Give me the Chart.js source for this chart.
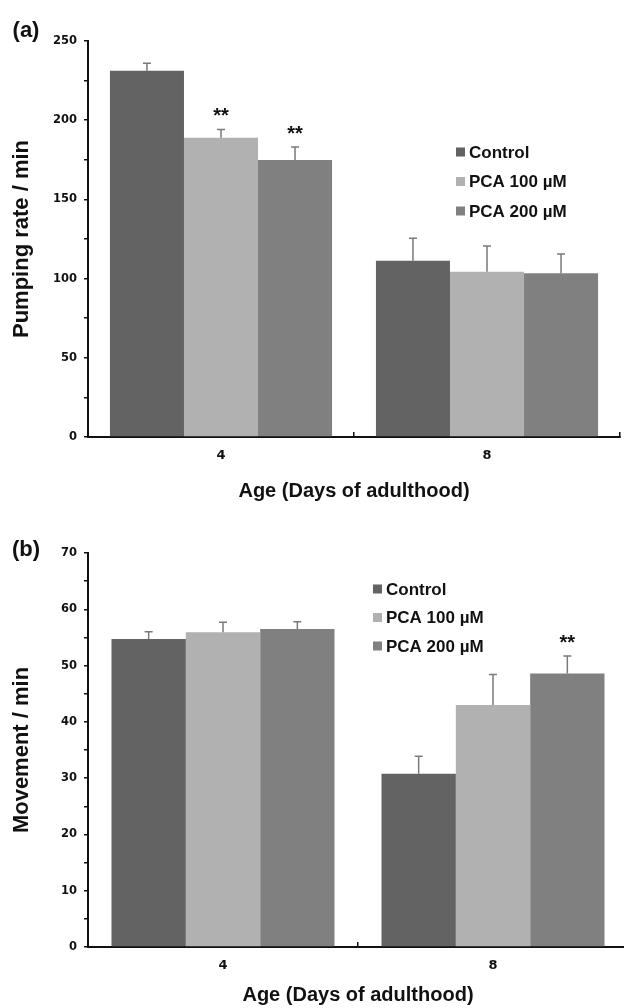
<!DOCTYPE html>
<html>
<head>
<meta charset="utf-8">
<script src="https://cdn.jsdelivr.net/npm/chart.js@4.4.0/dist/chart.umd.min.js"></script>
<style>
  html, body { margin: 0; padding: 0; background: #fff; overflow: hidden; width: 624px; height: 1008px; }
  .panel { position: absolute; left: 0; }
  #wrapA { top: 0; }
  #wrapB { top: 504px; }
</style>
</head>
<body>
<div class="panel" id="wrapA"><canvas id="chartA" width="624" height="504"></canvas></div>
<div class="panel" id="wrapB"><canvas id="chartB" width="632" height="504"></canvas></div>
<script>
// categories and series
const ages = ['4', '8'];
const seriesNames = ['Control', 'PCA 100 µM', 'PCA 200 µM'];
const seriesColors = ['#636363', '#b1b1b1', '#808080'];

// (a) pumping rate / min
const pumpControl = [231.2, 111.3];
const pumpPca100 = [188.9, 104.4];
const pumpPca200 = [174.9, 103.3];
const pumpControlErr = [4.7, 14.1];
const pumpPca100Err = [5.3, 16.2];
const pumpPca200Err = [8.2, 12.2];
const pumpSig = [['', ''], ['**', ''], ['**', '']];

// (b) movement / min
const moveControl = [54.7, 30.8];
const movePca100 = [55.9, 43.0];
const movePca200 = [56.5, 48.6];
const moveControlErr = [1.3, 3.1];
const movePca100Err = [1.8, 5.4];
const movePca200Err = [1.3, 3.1];
const moveSig = [['', ''], ['', ''], ['', '**']];

const boldSans = '"Liberation Sans", Arial, sans-serif';
const yTickFont = { family: '"DejaVu Sans", sans-serif', size: 11.5, weight: 'bold' };
const xTickFont = { family: '"DejaVu Sans", sans-serif', size: 13, weight: 'bold' };

// error bars, significance stars, legend and panel letter
const extras = {
  id: 'extras',
  afterDatasetsDraw(chart, args, opts) {
    const ctx = chart.ctx;
    const y = chart.scales.y;
    ctx.save();
    chart.data.datasets.forEach((ds, i) => {
      const meta = chart.getDatasetMeta(i);
      meta.data.forEach((bar, j) => {
        const base = y.getPixelForValue(ds.data[j]);
        const top = y.getPixelForValue(ds.data[j] + ds.err[j]);
        ctx.strokeStyle = '#7a7a7a';
        ctx.lineWidth = 1.5;
        ctx.beginPath();
        ctx.moveTo(bar.x, base);
        ctx.lineTo(bar.x, top);
        ctx.moveTo(bar.x - 4, top);
        ctx.lineTo(bar.x + 4, top);
        ctx.stroke();
        if (ds.sig[j]) {
          ctx.fillStyle = '#111';
          ctx.font = 'bold 20px ' + boldSans;
          ctx.textAlign = 'center';
          ctx.textBaseline = 'alphabetic';
          ctx.fillText(ds.sig[j], bar.x, top - 7);
        }
      });
    });

    // legend
    const lg = opts.legend;
    chart.data.datasets.forEach((ds, i) => {
      const cy = lg.y + i * lg.gap;
      ctx.fillStyle = ds.backgroundColor;
      ctx.fillRect(lg.x, cy - 4.5, 9, 9);
      ctx.fillStyle = '#111';
      ctx.font = 'bold 17px ' + boldSans;
      ctx.textAlign = 'left';
      ctx.textBaseline = 'middle';
      ctx.fillText(ds.label, lg.x + 13, cy + 1);
    });

    // panel letter
    ctx.fillStyle = '#111';
    ctx.font = 'bold 22px ' + boldSans;
    ctx.textAlign = 'center';
    ctx.textBaseline = 'middle';
    ctx.fillText(opts.letter, 26, opts.letterY);
    ctx.restore();
  }
};

function makeChart(id, values, errs, sigs, yMax, yStep, yLabelEvery, yTitle, pad, xHeight, legend, letter, letterY, catPct) {
  const datasets = seriesNames.map((name, i) => ({
    label: name,
    data: values[i],
    err: errs[i],
    sig: sigs[i],
    backgroundColor: seriesColors[i],
    borderWidth: 0,
    barPercentage: 1,
    categoryPercentage: catPct
  }));
  return new Chart(document.getElementById(id), {
    type: 'bar',
    data: { labels: ages, datasets: datasets },
    options: {
      responsive: false,
      animation: false,
      layout: { padding: pad },
      plugins: {
        legend: { display: false },
        tooltip: { enabled: false },
        extras: { legend: legend, letter: letter, letterY: letterY }
      },
      scales: {
        x: {
          afterFit: s => { s.height = xHeight; },
          grid: { display: true, drawOnChartArea: false, drawTicks: true, tickLength: -5, color: '#111', lineWidth: 1.5 },
          border: { display: true, color: '#111', width: 2 },
          ticks: { color: '#111', font: xTickFont, padding: 16 },
          title: {
            display: true,
            text: 'Age (Days of adulthood)',
            color: '#111',
            font: { family: boldSans, size: 20, weight: 'bold' },
            padding: { top: 0, bottom: 1 }
          }
        },
        y: {
          min: 0,
          max: yMax,
          afterFit: s => { s.width = 88; },
          grid: { display: true, drawOnChartArea: false, drawTicks: true, tickLength: 4, color: '#111', lineWidth: 1.5 },
          border: { display: true, color: '#111', width: 2 },
          ticks: {
            stepSize: yStep,
            color: '#111',
            font: yTickFont,
            padding: 7,
            callback: v => (v % yLabelEvery === 0 ? v : '')
          },
          title: {
            display: true,
            text: yTitle,
            color: '#111',
            font: { family: boldSans, size: 22, weight: 'bold' },
            padding: { top: 9, bottom: 0 }
          }
        }
      }
    },
    plugins: [extras]
  });
}

makeChart('chartA',
  [pumpControl, pumpPca100, pumpPca200],
  [pumpControlErr, pumpPca100Err, pumpPca200Err],
  pumpSig, 250, 25, 50, 'Pumping rate / min',
  { top: 41, right: 4, left: 0, bottom: 0 }, 67,
  { x: 456, y: 152, gap: 29.5 }, '(a)', 31, 0.835);

makeChart('chartB',
  [moveControl, movePca100, movePca200],
  [moveControlErr, movePca100Err, movePca200Err],
  moveSig, 70, 5, 10, 'Movement / min',
  { top: 49, right: 4, left: 0, bottom: 0 }, 61,
  { x: 373, y: 85, gap: 28.5 }, '(b)', 46, 0.826);
</script>
</body>
</html>
